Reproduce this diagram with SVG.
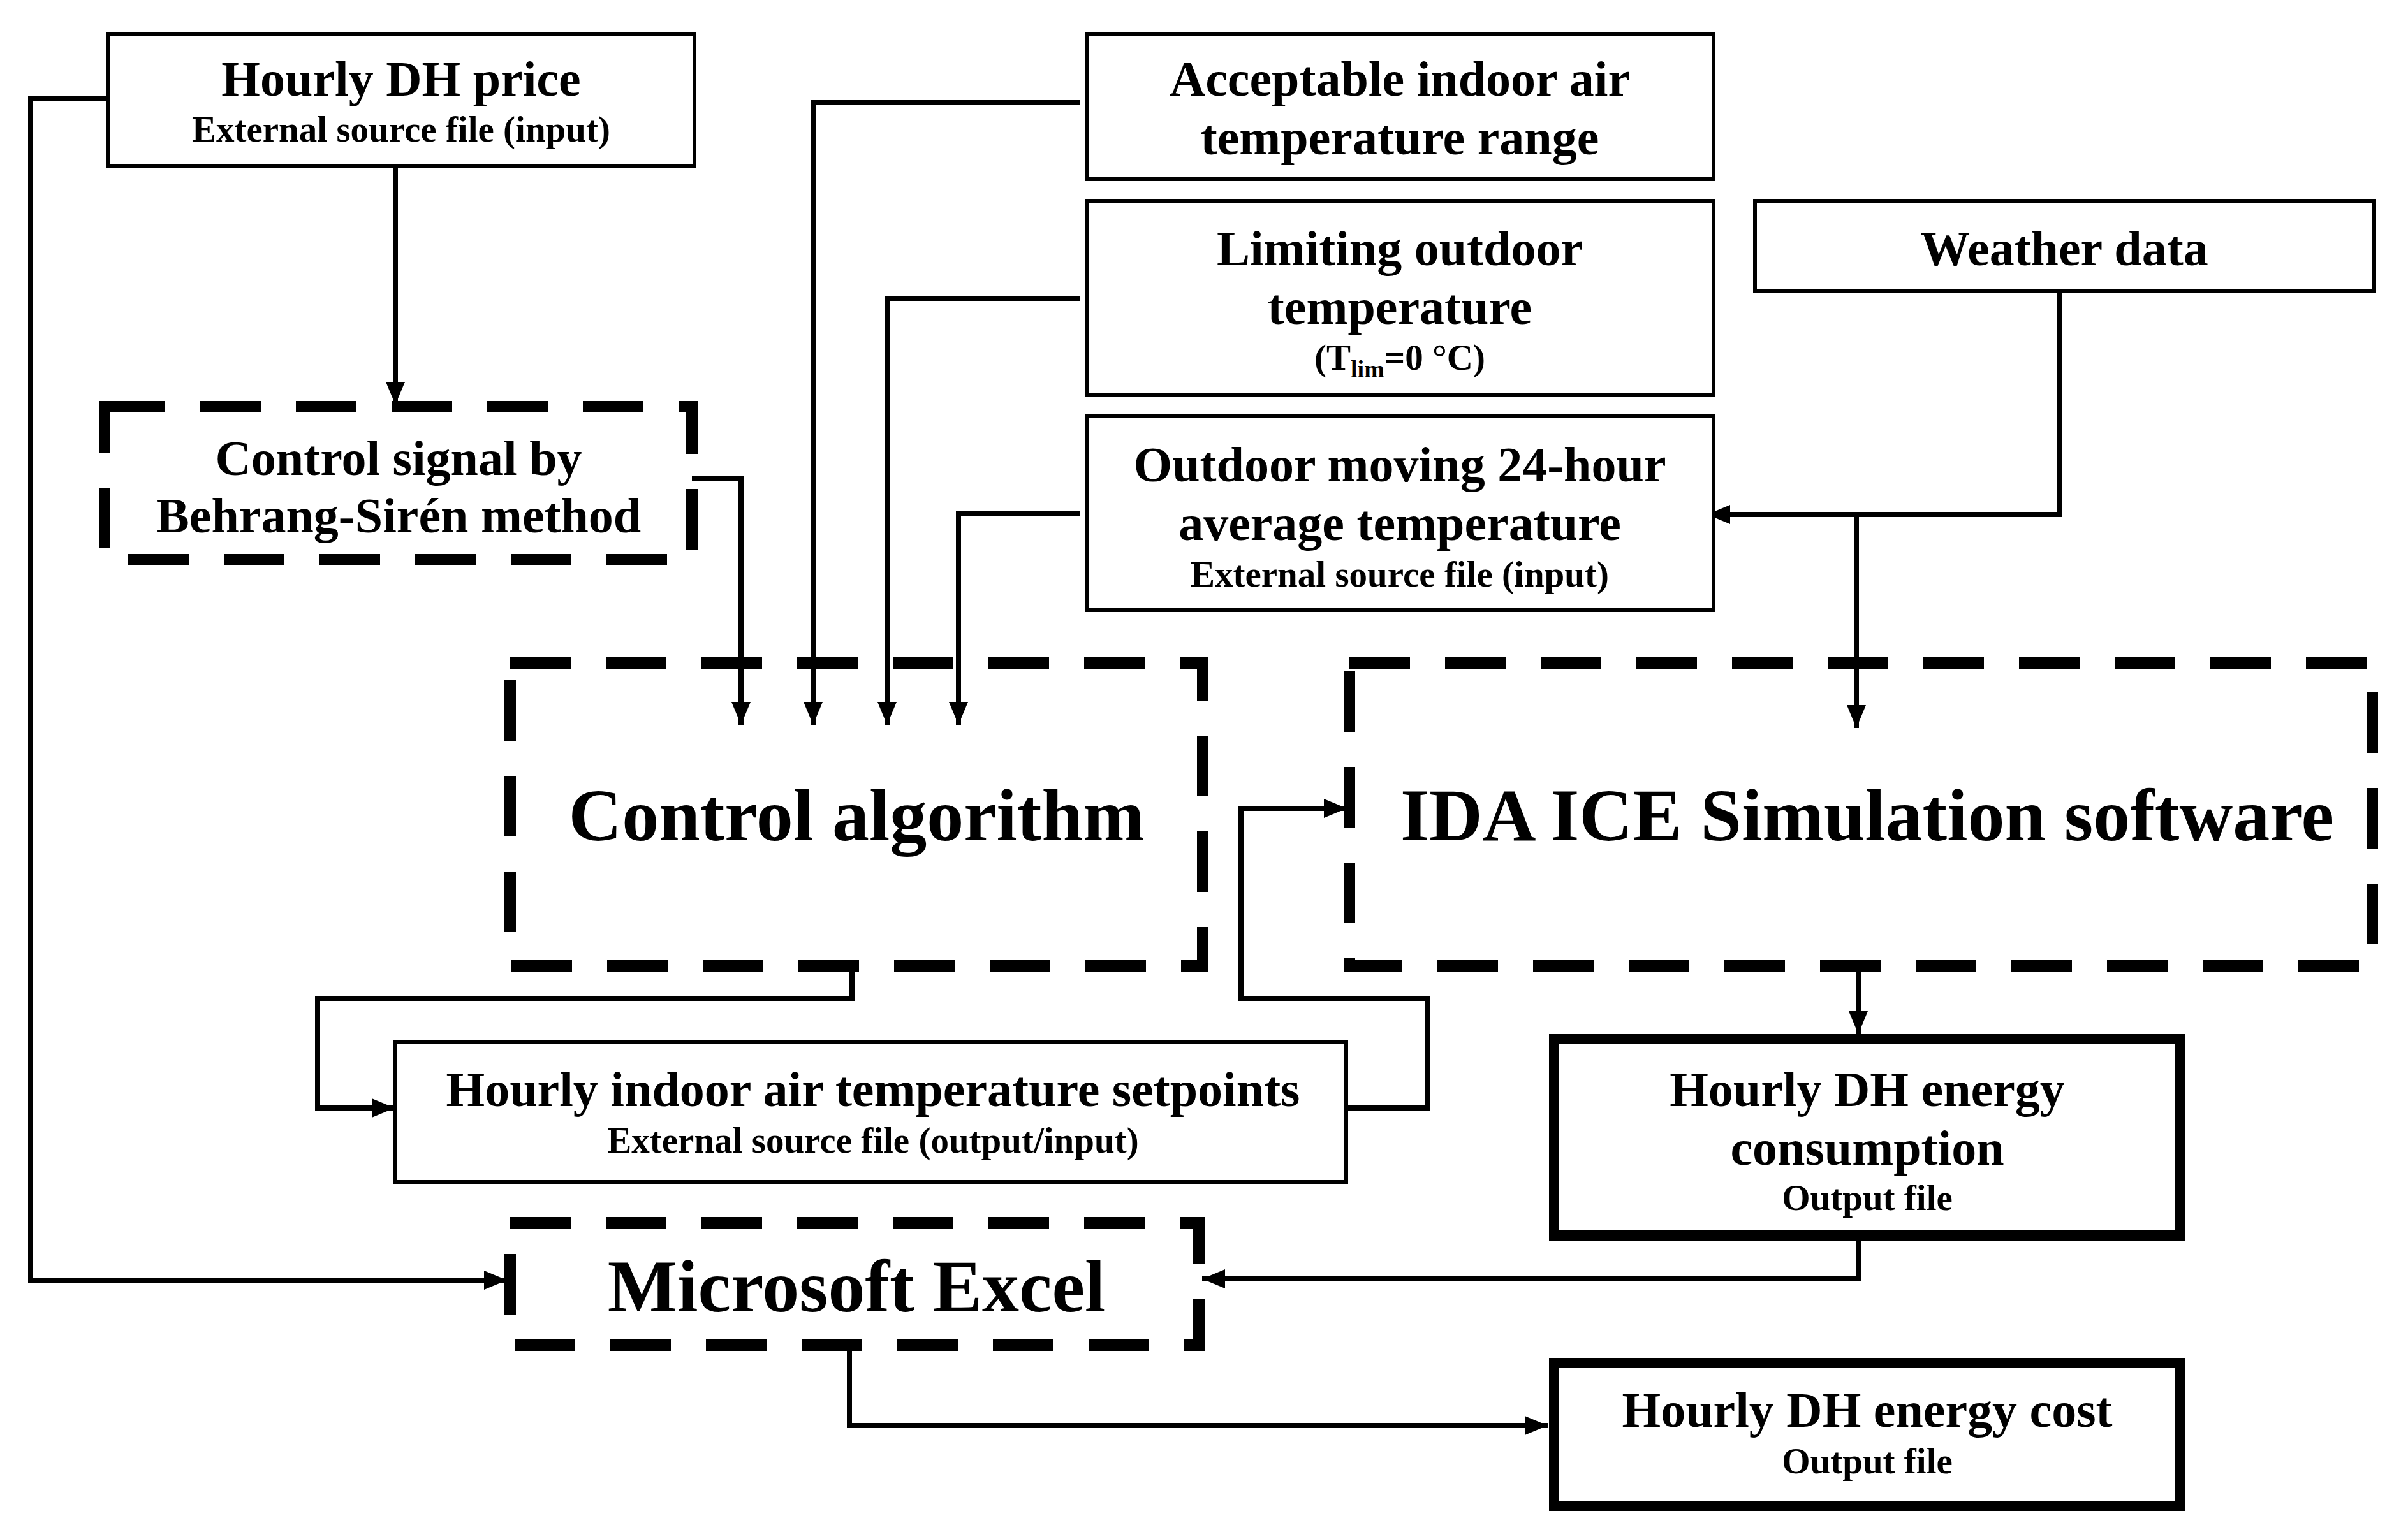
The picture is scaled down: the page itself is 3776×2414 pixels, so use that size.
<svg xmlns="http://www.w3.org/2000/svg" width="3776" height="2414" viewBox="0 0 3776 2414">
<style>
text{font-family:"Liberation Serif","Times New Roman",serif;font-weight:bold;text-anchor:middle;fill:#000}
.t{font-size:78px}.s{font-size:57px}.b{font-size:116px}
.thin{fill:#fff;stroke:#000;stroke-width:6}
.thick{fill:#fff;stroke:#000;stroke-width:16}
.dash{fill:none;stroke:#000;stroke-width:18;stroke-dasharray:95 55}
.c{fill:none;stroke:#000;stroke-width:8;marker-end:url(#a)}
</style>
<defs><marker id="a" markerUnits="userSpaceOnUse" markerWidth="40" markerHeight="40" refX="36" refY="15" orient="auto"><path d="M0,0 L36,15 L0,30 Z" fill="#000"/></marker></defs>
<rect width="3776" height="2414" fill="#fff"/>
<g id="connectors">
<path class="c" d="M169,155 H48 V2008 H795"/>
<path class="c" d="M620,263 V635"/>
<path class="c" d="M1085,751 H1162 V1137"/>
<path class="c" d="M1694,161 H1275 V1137"/>
<path class="c" d="M1694,468 H1391 V1137"/>
<path class="c" d="M1694,806 H1503 V1137"/>
<path class="c" d="M3229,457 V807 H2677"/>
<path class="c" d="M2911,807 V1142"/>
<path class="c" d="M1336,1515 V1566 H498 V1738 H619"/>
<path class="c" d="M2109,1738 H2239 V1566 H1946 V1268 H2112"/>
<path class="c" d="M2914,1515 V1622"/>
<path class="c" d="M2914,1938 V2006 H1885"/>
<path class="c" d="M1332,2102 V2236 H2427"/>
</g>
<g id="price"><rect class="thin" x="169" y="53" width="920" height="208"/><text class="t" x="629" y="150">Hourly DH price</text><text class="s" x="629" y="222">External source file (input)</text></g>
<g id="signal"><rect class="dash" x="164" y="638" width="921" height="240"/><text class="t" x="625" y="745">Control signal by</text><text class="t" x="625" y="835">Behrang-Sirén method</text></g>
<g id="acceptable"><rect class="thin" x="1704" y="53" width="983" height="228"/><text class="t" x="2195" y="150">Acceptable indoor air</text><text class="t" x="2195" y="242">temperature range</text></g>
<g id="limiting"><rect class="thin" x="1704" y="315" width="983" height="304"/><text class="t" x="2195" y="416">Limiting outdoor</text><text class="t" x="2195" y="508">temperature</text><text class="s" x="2195" y="580">(T<tspan font-size="38" dy="12">lim</tspan><tspan dy="-12">=0 °C)</tspan></text></g>
<g id="weather"><rect class="thin" x="2752" y="315" width="971" height="142"/><text class="t" x="3237" y="416">Weather data</text></g>
<g id="outdoor"><rect class="thin" x="1704" y="653" width="983" height="304"/><text class="t" x="2195" y="755">Outdoor moving 24-hour</text><text class="t" x="2195" y="847">average temperature</text><text class="s" x="2195" y="920">External source file (input)</text></g>
<g id="control"><rect class="dash" x="800" y="1040" width="1086" height="475"/><text class="b" x="1343" y="1318">Control algorithm</text></g>
<g id="ida"><rect class="dash" x="2116" y="1040" width="1604" height="475"/><text class="b" x="2928" y="1318">IDA ICE Simulation software</text></g>
<g id="setpoints"><rect class="thin" x="619" y="1634" width="1492" height="220"/><text class="t" x="1369" y="1735">Hourly indoor air temperature setpoints</text><text class="s" x="1369" y="1808">External source file (output/input)</text></g>
<g id="consumption"><rect class="thick" x="2437" y="1630" width="982" height="308"/><text class="t" x="2928" y="1735">Hourly DH energy</text><text class="t" x="2928" y="1827">consumption</text><text class="s" x="2928" y="1898">Output file</text></g>
<g id="excel"><rect class="dash" x="800" y="1918" width="1080" height="192"/><text class="b" x="1343" y="2057">Microsoft Excel</text></g>
<g id="cost"><rect class="thick" x="2437" y="2138" width="982" height="224"/><text class="t" x="2928" y="2238">Hourly DH energy cost</text><text class="s" x="2928" y="2311">Output file</text></g>
</svg>
